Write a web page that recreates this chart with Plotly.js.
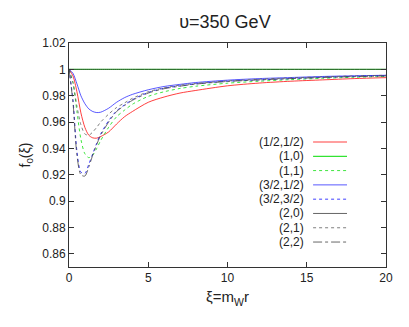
<!DOCTYPE html>
<html>
<head>
<meta charset="utf-8">
<script src="https://cdn.plot.ly/plotly-3.0.1.min.js"></script>
<style>
  body { margin: 0; background: #fff; }
  #plot { width: 409px; height: 327px; }
</style>
</head>
<body>
<div id="plot"></div>
<script>
const xi = [0, 0.25, 0.5, 0.75, 1, 1.25, 1.5, 1.75, 2, 2.5, 3, 3.5, 4, 5, 6, 7, 8, 10, 12, 14, 16, 18, 20];

const fHalfHalf = [1, 0.995, 0.983, 0.967, 0.956, 0.950, 0.948, 0.9478, 0.949, 0.9525, 0.9585, 0.964, 0.968, 0.975, 0.979, 0.982, 0.984, 0.9875, 0.9896, 0.991, 0.992, 0.993, 0.9937];
const fOneZero = [1, 1, 1, 1, 1, 1, 1, 1, 1, 1, 1, 1, 1, 1, 1, 1, 1, 1, 1, 1, 1, 1, 1];
const fOneOne = [1, 0.990, 0.968, 0.947, 0.936, 0.933, 0.935, 0.940, 0.946, 0.956, 0.964, 0.969, 0.9735, 0.9795, 0.983, 0.9855, 0.9872, 0.9895, 0.991, 0.9922, 0.9932, 0.994, 0.9946];
const fThreeHalfHalf = [1, 0.997, 0.989, 0.980, 0.974, 0.970, 0.968, 0.9672, 0.9675, 0.9705, 0.975, 0.9785, 0.981, 0.9845, 0.987, 0.9886, 0.990, 0.9918, 0.993, 0.9938, 0.9946, 0.9951, 0.9955];
const fThreeHalfThreeHalf = [1, 0.977, 0.938, 0.922, 0.921, 0.928, 0.936, 0.944, 0.951, 0.961, 0.9685, 0.973, 0.977, 0.9825, 0.9857, 0.9875, 0.989, 0.991, 0.992, 0.993, 0.994, 0.9947, 0.9952];
const fTwoZero = [1, 1, 1, 1, 1, 1, 1, 1, 1, 1, 1, 1, 1, 1, 1, 1, 1, 1, 1, 1, 1, 1, 1];
const fTwoOne = [1, 0.990, 0.972, 0.958, 0.951, 0.950, 0.9525, 0.956, 0.960, 0.966, 0.971, 0.9745, 0.978, 0.983, 0.986, 0.988, 0.9893, 0.9912, 0.9925, 0.9935, 0.9943, 0.995, 0.9955];
const fTwoTwo = [1, 0.975, 0.935, 0.920, 0.919, 0.926, 0.935, 0.943, 0.950, 0.960, 0.968, 0.9725, 0.9765, 0.982, 0.9853, 0.9872, 0.9888, 0.9908, 0.992, 0.993, 0.9938, 0.9945, 0.995];

const names = ["(1/2,1/2)", "(1,0)", "(1,1)", "(3/2,1/2)", "(3/2,3/2)", "(2,0)", "(2,1)", "(2,2)"];
const series = [fHalfHalf, fOneZero, fOneOne, fThreeHalfHalf, fThreeHalfThreeHalf, fTwoZero, fTwoOne, fTwoTwo];
const colors = ["#ff0000", "#00dd00", "#00dd00", "#0000ff", "#0000ff", "#333333", "#555555", "#444444"];
const dashes = ["solid", "solid", "dot", "solid", "dot", "solid", "dot", "dashdot"];
const opac = [0.75, 1, 0.75, 0.65, 0.75, 0.75, 0.75, 0.8];

const font = "Liberation Sans, Arial, sans-serif";

const data = series.map((y, i) => ({
  x: xi,
  y: y,
  name: names[i],
  type: "scatter",
  mode: "lines",
  opacity: opac[i],
  line: {color: colors[i], width: 1, dash: dashes[i], shape: "spline", smoothing: 0.8}
}));

// gnuplot-style key: label on the left, line sample on the right
const annotations = [];
const shapes = [];
names.forEach((n, i) => {
  const ky = 0.558 - i * 0.0638;
  annotations.push({
    xref: "paper", yref: "paper", x: 0.7476, y: ky,
    xanchor: "right", yanchor: "middle", showarrow: false,
    text: n, font: {family: font, size: 12, color: "#222"}
  });
  shapes.push({
    type: "line", xref: "paper", yref: "paper",
    x0: 0.77, x1: 0.877, y0: ky, y1: ky,
    opacity: opac[i],
    line: {color: colors[i], width: 1, dash: dashes[i]}
  });
});

const layout = {
  width: 409,
  height: 327,
  margin: {l: 69, r: 23, t: 43, b: 60},
  paper_bgcolor: "#fff",
  plot_bgcolor: "#fff",
  showlegend: false,
  font: {family: font, size: 12, color: "#222"},
  title: {text: "υ=350 GeV", font: {family: font, size: 18, color: "#222"}, x: 0.55, xanchor: "center", y: 0.935, yref: "container", yanchor: "middle"},
  xaxis: {
    range: [0, 20], tickvals: [0, 5, 10, 15, 20],
    ticks: "inside", ticklen: 5, tickcolor: "#333",
    showline: true, mirror: "ticks", linecolor: "#333", linewidth: 1,
    showgrid: false, zeroline: false,
    tickfont: {family: font, size: 12, color: "#222"},
    title: {text: "ξ=m<sub>W</sub>r", font: {family: font, size: 15, color: "#222"}, standoff: 7}
  },
  yaxis: {
    range: [0.85, 1.02], tickvals: [0.86, 0.88, 0.9, 0.92, 0.94, 0.96, 0.98, 1, 1.02],
    ticktext: ["0.86", "0.88", "0.9", "0.92", "0.94", "0.96", "0.98", "1", "1.02"],
    ticks: "inside", ticklen: 5, tickcolor: "#333",
    showline: true, mirror: "ticks", linecolor: "#333", linewidth: 1,
    showgrid: false, zeroline: false,
    tickfont: {family: font, size: 12, color: "#222"},
    title: {text: "f<sub>0</sub>(ξ)", font: {family: font, size: 14, color: "#222"}, standoff: 8}
  },
  annotations: annotations,
  shapes: shapes
};

Plotly.newPlot("plot", data, layout, {displayModeBar: false, staticPlot: true});
</script>
</body>
</html>
